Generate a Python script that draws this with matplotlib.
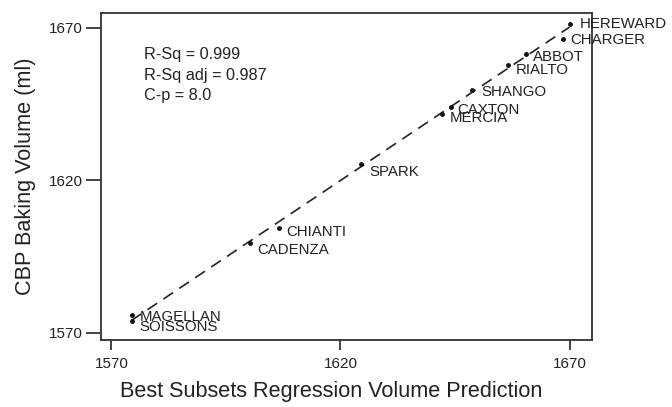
import numpy as np
import matplotlib.pyplot as plt

plt.rcParams['font.family'] = ['Liberation Sans', 'DejaVu Sans']

# cultivars: predicted vs observed CBP baking volume
names = ['HEREWARD', 'CHARGER', 'ABBOT', 'RIALTO', 'SHANGO', 'CAXTON',
         'MERCIA', 'SPARK', 'CHIANTI', 'CADENZA', 'MAGELLAN', 'SOISSONS']
pred = [1670.0, 1668.5, 1660.5, 1656.5, 1648.7, 1644.2,
        1642.1, 1624.4, 1606.5, 1600.3, 1574.6, 1574.4]
obs = [1671.2, 1666.4, 1661.4, 1657.9, 1649.7, 1644.2,
       1641.7, 1625.4, 1604.3, 1599.4, 1575.7, 1573.9]
# label offsets (pixels) so the names sit like in the original
lab_dx = [10, 8, 7, 8, 9, 6, 8, 9, 8, 7, 7, 8]
lab_dy = [0, -1, -3, -5, -2, -3, -4, -8, -4, -7, -2, -6]

ticks = [1570, 1620, 1670]
stats = 'R-Sq = 0.999\nR-Sq adj = 0.987\nC-p = 8.0'

fig = plt.figure(figsize=(6.72, 4.07), dpi=100)
ax = fig.add_axes([0.150, 0.165, 0.731, 0.803])

x = np.array(pred)
y = np.array(obs)
b, a = np.polyfit(x, y, 1)
xl = np.array([x.min(), x.max()])
ax.plot(xl, a + b * xl, color='#222222', lw=1.2, dashes=(7, 4.5))
ax.plot(x, y, 'o', color='#111111', ms=2.5)

for n, xi, yi, dx, dy in zip(names, pred, obs, lab_dx, lab_dy):
    ax.annotate(n, (xi, yi), xytext=(dx * 0.72, dy * 0.72),
                textcoords='offset points', fontsize=10.8, color='#222222',
                va='center', ha='left', annotation_clip=False)

ax.text(0.088, 0.895, stats, transform=ax.transAxes, fontsize=11.7,
        color='#222222', va='top', linespacing=1.46)

ax.set_xlim(1567.7, 1674.9)
ax.set_ylim(1567.7, 1674.9)
ax.set_xticks(ticks)
ax.set_yticks(ticks)
ax.tick_params(axis='x', length=7, width=1.2, pad=5, labelsize=11, colors='#222222')
ax.tick_params(axis='y', length=11, width=1.2, pad=2, labelsize=11, colors='#222222')
for s in ax.spines.values():
    s.set_linewidth(1.3)
    s.set_color('#333333')

ax.set_xlabel('Best Subsets Regression Volume Prediction', fontsize=15.6, color='#222222')
ax.set_ylabel('CBP Baking Volume (ml)', fontsize=15.6, color='#222222')
ax.xaxis.set_label_coords(0.47, -0.125)
ax.yaxis.set_label_coords(-0.132, 0.5)

fig.savefig('out.png', dpi=100)
